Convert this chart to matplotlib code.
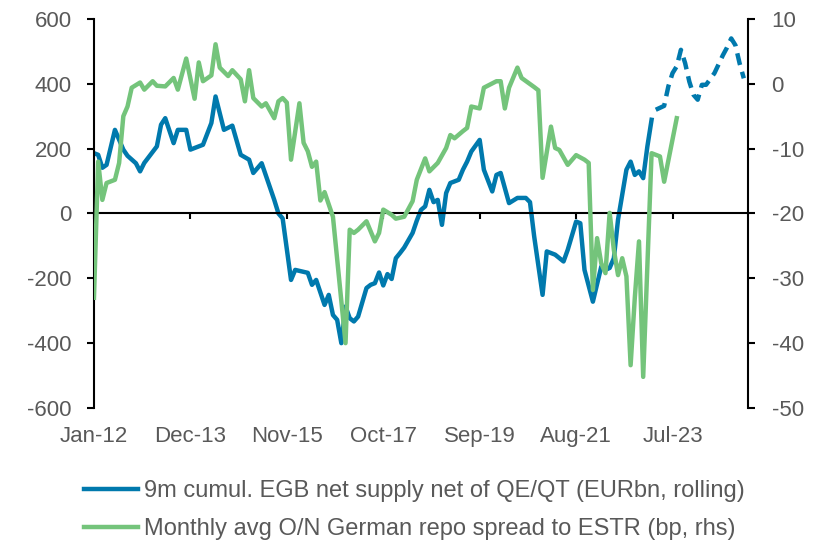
import matplotlib.pyplot as plt
import pandas as pd

plt.rcParams['font.family'] = ['Liberation Sans', 'DejaVu Sans']
plt.rcParams['axes.unicode_minus'] = False

BLUE = '#0079AD'
GREEN = '#74C47B'
GREY = '#595959'

# 9m cumulative EGB net supply net of QE/QT (EURbn), actual
blue_dates = ['2012-01', '2012-02', '2012-03', '2012-04', '2012-06', '2012-08', '2012-09', '2012-11',
              '2012-12', '2013-01', '2013-04', '2013-05', '2013-06', '2013-08', '2013-09', '2013-11',
              '2013-12', '2014-03', '2014-05', '2014-06', '2014-08', '2014-10', '2014-12', '2015-02',
              '2015-03', '2015-05', '2015-08', '2015-09', '2015-10', '2015-12', '2016-01', '2016-04',
              '2016-05', '2016-06', '2016-08', '2016-09', '2016-10', '2016-11', '2016-12', '2017-01',
              '2017-02', '2017-03', '2017-04', '2017-06', '2017-07', '2017-08', '2017-09', '2017-10',
              '2017-11', '2017-12', '2018-01', '2018-02', '2018-03', '2018-05', '2018-06', '2018-07',
              '2018-08', '2018-09', '2018-10', '2018-11', '2018-12', '2019-01', '2019-02', '2019-04',
              '2019-05', '2019-06', '2019-07', '2019-09', '2019-10', '2019-12', '2020-01', '2020-02',
              '2020-04', '2020-06', '2020-08', '2020-09', '2020-10', '2020-12', '2021-01', '2021-03',
              '2021-05', '2021-06', '2021-08', '2021-09', '2021-10', '2021-12', '2022-02', '2022-03',
              '2022-04', '2022-05', '2022-06', '2022-08', '2022-09', '2022-10', '2022-11', '2022-12',
              '2023-01', '2023-02']
blue_values = [186, 181, 141, 150, 258, 197, 178, 155,
               130, 156, 207, 274, 294, 217, 258, 258,
               197, 212, 279, 361, 258, 271, 181, 166,
               125, 155, 42, 0, -15, -205, -174, -183,
               -220, -205, -282, -251, -313, -328, -400, -287,
               -323, -333, -318, -230, -220, -215, -182, -222,
               -187, -202, -138, -122, -105, -60, -22, 11,
               22, 73, 35, 42, -35, 63, 94, 104,
               135, 160, 191, 227, 135, 68, 119, 125,
               32, 48, 48, 35, -71, -251, -117, -127,
               -148, -112, -25, -30, -174, -272, -164, -174,
               -168, -138, -19, 135, 160, 119, 130, 109,
               207, 289]

# projection (dashed)
proj_dates = ['2023-03', '2023-05', '2023-06', '2023-07', '2023-08', '2023-09', '2023-10', '2023-11',
              '2023-12', '2024-01', '2024-02', '2024-03', '2024-05', '2024-07', '2024-08', '2024-09',
              '2024-10', '2024-11', '2024-12']
proj_values = [320, 332, 392, 433, 454, 505, 464, 407,
               366, 351, 397, 397, 433, 488, 512, 540,
               519, 463, 417]

# Monthly avg O/N German repo spread to ESTR (bp), rhs
green_dates = ['2012-01', '2012-02', '2012-03', '2012-04', '2012-06', '2012-07', '2012-08', '2012-09',
               '2012-10', '2012-12', '2013-01', '2013-03', '2013-04', '2013-06', '2013-08', '2013-09',
               '2013-11', '2014-01', '2014-02', '2014-03', '2014-05', '2014-06', '2014-07', '2014-09',
               '2014-10', '2014-12', '2015-01', '2015-02', '2015-03', '2015-05', '2015-06', '2015-08',
               '2015-09', '2015-10', '2015-11', '2015-12', '2016-02', '2016-03', '2016-04', '2016-05',
               '2016-06', '2016-07', '2016-08', '2016-10', '2016-11', '2016-12', '2017-01', '2017-02',
               '2017-03', '2017-04', '2017-06', '2017-08', '2017-09', '2017-10', '2017-12', '2018-01',
               '2018-03', '2018-05', '2018-06', '2018-08', '2018-09', '2018-11', '2019-01', '2019-02',
               '2019-03', '2019-05', '2019-06', '2019-07', '2019-09', '2019-10', '2020-01', '2020-02',
               '2020-03', '2020-04', '2020-06', '2020-07', '2020-10', '2020-11', '2020-12', '2021-02',
               '2021-03', '2021-04', '2021-06', '2021-08', '2021-10', '2021-11', '2021-12', '2022-01',
               '2022-02', '2022-03', '2022-04', '2022-05', '2022-06', '2022-07', '2022-08', '2022-09',
               '2022-10', '2022-11', '2022-12', '2023-01', '2023-02', '2023-04', '2023-05', '2023-08']
green_values = [-33, -12, -17.9, -15.3, -14.8, -12.2, -5.0, -3.5,
                -0.6, 0.2, -0.9, 0.4, -0.3, -0.4, 0.9, -0.9,
                3.9, -2.3, 3.3, 0.4, 1.3, 6.1, 2.5, 1.2,
                2.1, 0.7, -2.7, 2.1, -2.2, -3.5, -3.0, -5.3,
                -2.7, -2.2, -2.9, -11.7, -3.0, -9.1, -10.4, -12.8,
                -12.0, -18.0, -16.7, -20.5, -27, -33.5, -40, -22.5,
                -23, -22.5, -21.2, -24.3, -23, -19.4, -20.2, -20.8,
                -20.5, -18.1, -14.8, -11.5, -13.5, -12.2, -9.9, -7.9,
                -8.4, -7.3, -6.8, -3.5, -3.8, -0.6, 0.4, 0.4,
                -3.8, -0.6, 2.5, 0.9, -0.5, -1.0, -14.5, -6.6,
                -9.9, -10.2, -12.5, -11.0, -11.7, -12.2, -31.8, -23.8,
                -27.7, -29.2, -19.9, -25.6, -29.5, -26.9, -29.7, -43.4,
                -33, -24.3, -45.2, -28, -10.7, -11.2, -15.1, -5.3]

tick_labels = ['Jan-12', 'Dec-13', 'Nov-15', 'Oct-17', 'Sep-19', 'Aug-21', 'Jul-23']


def month_no(dates, fmt='%Y-%m'):
    d = pd.to_datetime(dates, format=fmt)
    return (d.year - 2012) * 12 + d.month - 1


fig = plt.figure(figsize=(8.2, 5.44), dpi=100)
ax = fig.add_axes([0.1146, 0.25, 0.7976, 0.7151])
ax2 = ax.twinx()

l1, = ax.plot(month_no(blue_dates), blue_values, color=BLUE, lw=3.2)
ax.plot(month_no(proj_dates), proj_values, color=BLUE, lw=3.2, linestyle=(0, (2.7, 1.6)))
l2, = ax2.plot(month_no(green_dates), green_values, color=GREEN, lw=3.2)

ax.set_xlim(0, 156)
ax.set_ylim(-600, 600)
ax2.set_ylim(-50, 10)
ax.set_yticks(range(-600, 601, 200))
ax2.set_yticks(range(-50, 11, 10))

# x axis line crosses at zero, labels stay at the bottom
ticks = month_no(tick_labels, fmt='%b-%y')
ax.spines['bottom'].set_position(('data', 0))
ax.spines['bottom'].set_linewidth(1.5)
ax.set_xticks(ticks)
ax.tick_params(axis='x', length=4, width=1.5, labelbottom=False)
sec = ax.secondary_xaxis('bottom')
sec.set_xticks(ticks, tick_labels)
sec.tick_params(length=0, pad=13, labelsize=16, labelcolor=GREY)
sec.spines['bottom'].set_visible(False)

for s in ['top', 'right']:
    ax.spines[s].set_visible(False)
for s in ['top', 'bottom', 'left']:
    ax2.spines[s].set_visible(False)
ax.spines['left'].set_linewidth(1.5)
ax2.spines['right'].set_linewidth(1.5)
ax.tick_params(axis='y', length=5, width=1.5, pad=11, labelsize=16, labelcolor=GREY)
ax2.tick_params(axis='y', length=5, width=1.5, pad=12, labelsize=16, labelcolor=GREY)

fig.legend([l1, l2],
           ['9m cumul. EGB net supply net of QE/QT (EURbn, rolling)',
            'Monthly avg O/N German repo spread to ESTR (bp, rhs)'],
           loc='upper left', bbox_to_anchor=(0.102, 0.118), frameon=False,
           fontsize=17, labelcolor=GREY, handlelength=2.3, handletextpad=0.25,
           labelspacing=0.7, borderpad=0, borderaxespad=0)

fig.savefig('out.png', dpi=100)
